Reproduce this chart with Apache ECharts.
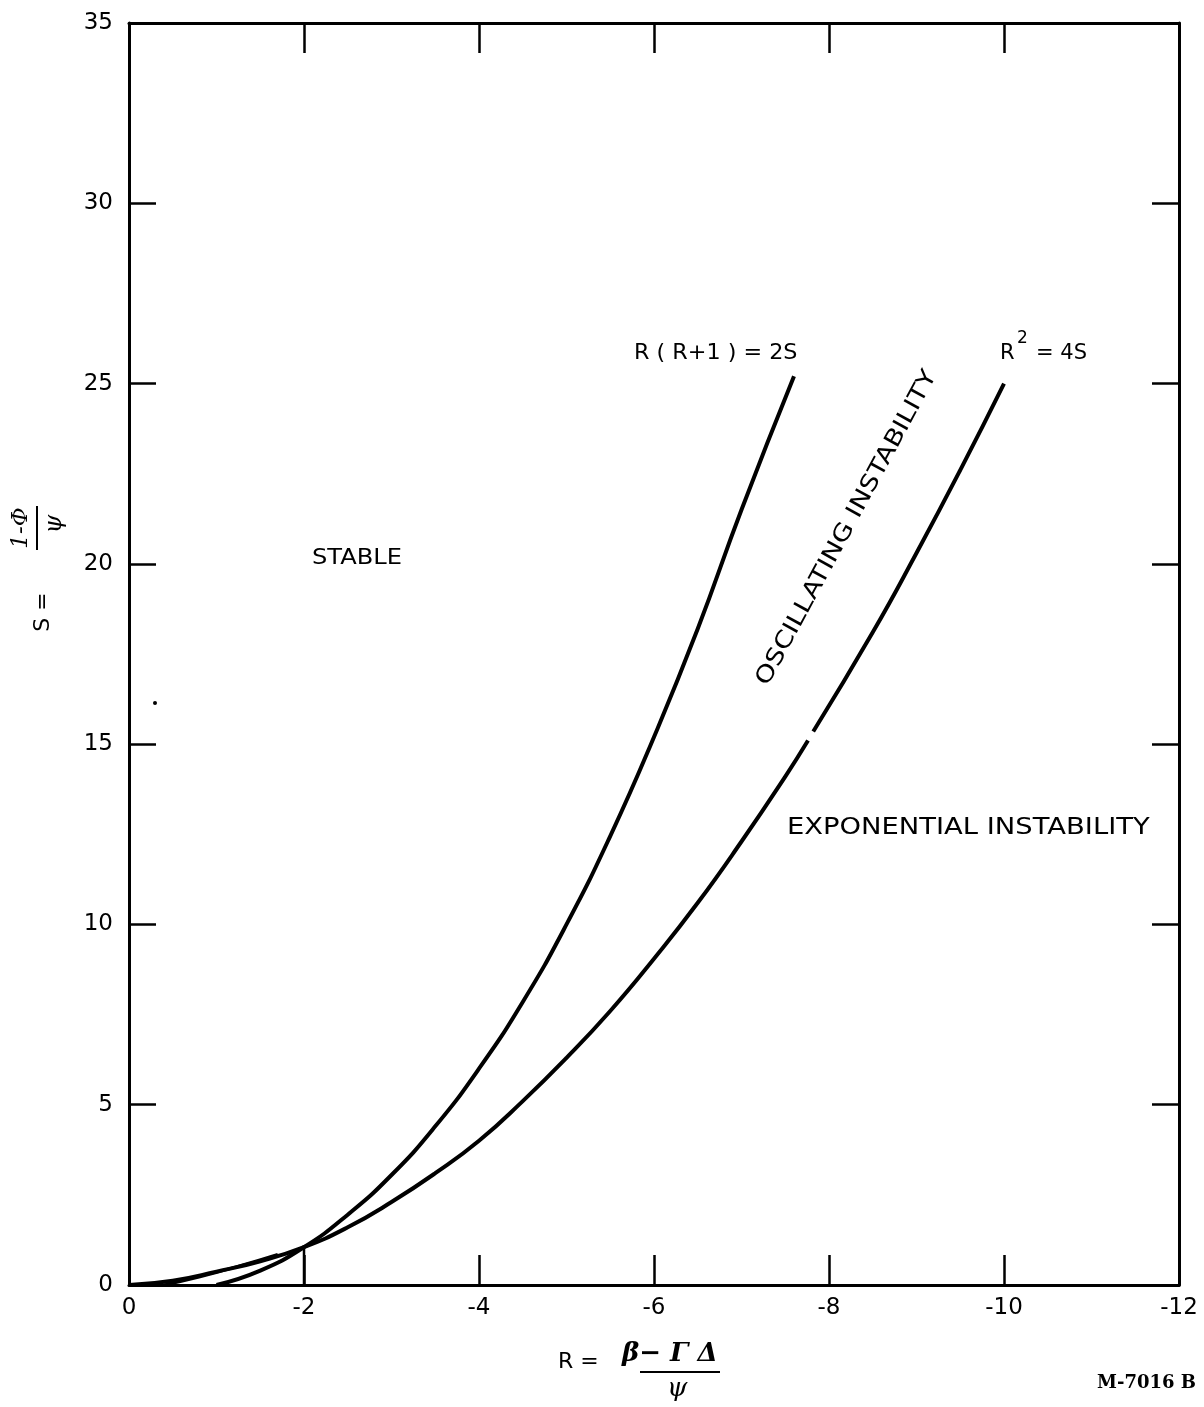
<!DOCTYPE html>
<html>
<head>
<meta charset="utf-8">
<script src="https://cdn.jsdelivr.net/npm/echarts@6/dist/echarts.min.js"></script>
<style>
  html, body { margin: 0; padding: 0; background: #fff; }
  #chart { width: 1204px; height: 1407px; }
</style>
</head>
<body>
<div id="chart"></div>
<script>
// R (R+1) = 2S boundary
const curve1R = [-1.0, -1.5, -2.0, -2.5, -3.0, -3.5, -4.0, -4.5, -5.0, -5.5, -6.0, -6.5, -7.0, -7.6];
const curve1S = [0, 0.4, 1.05, 1.95, 3.05, 4.4, 6.0, 7.85, 10.0, 12.45, 15.2, 18.2, 21.5, 25.2];
// R^2 = 4S boundary (small break near S = 15)
const curve2R = [0, -0.5, -1.0, -1.5, -2.0, -2.5, -3.0, -3.5, -4.0, -4.5, -5.0, -5.5, -6.0, -6.5, -7.0, -7.5, -7.76, null, -7.82, -8.5, -9.0, -9.5, -10.0];
const curve2S = [0, 0.12, 0.37, 0.66, 1.05, 1.6, 2.3, 3.1, 4.0, 5.1, 6.3, 7.6, 9.05, 10.6, 12.3, 14.1, 15.1, null, 15.35, 18.1, 20.3, 22.6, 25.0];
// short drafting stroke near the origin
const stubR = [-0.4, -0.8, -1.29, -1.7];
const stubS = [0, 0.22, 0.55, 0.85];

const xTicks = { min: -12, max: 0, interval: 2 };
const yTicks = { min: 0, max: 35, interval: 5 };

const chart = echarts.init(document.getElementById('chart'), null, { renderer: 'canvas' });

function pairs(xs, ys) {
  return xs.map((x, i) => (x === null ? [null, null] : [x, ys[i]]));
}

const font = '"DejaVu Sans"';
const lineStyle = { color: '#000', width: 4 };
const axisBase = {
  type: 'value',
  inverse: true,
  axisLine: { show: true, onZero: false, lineStyle: { color: '#000', width: 3 } },
  axisTick: { show: true, inside: true, length: 30, lineStyle: { color: '#000', width: 2.5 } },
  splitLine: { show: false }
};

// plain text helper, x/y is the top-left corner, sx stretches the text horizontally
function label(text, x, y, size, sx) {
  return {
    type: 'text', x: x, y: y, scaleX: sx || 1,
    style: { text: text, font: size + 'px ' + font, fill: '#000', align: 'left', verticalAlign: 'top' }
  };
}

var option = {
  backgroundColor: '#fff',
  animation: false,
  grid: { left: 129, right: 25, top: 23, bottom: 122 },
  xAxis: [
    Object.assign({}, axisBase, {
      position: 'bottom', min: xTicks.min, max: xTicks.max, interval: xTicks.interval,
      axisLabel: { color: '#000', fontFamily: 'DejaVu Sans', fontSize: 23, margin: 12 }
    }),
    Object.assign({}, axisBase, {
      position: 'top', min: xTicks.min, max: xTicks.max, interval: xTicks.interval,
      axisLabel: { show: false }
    })
  ],
  yAxis: [
    Object.assign({}, axisBase, {
      inverse: false, position: 'left', min: yTicks.min, max: yTicks.max, interval: yTicks.interval,
      axisTick: { show: true, inside: true, length: 27, lineStyle: { color: '#000', width: 2.5 } },
      axisLabel: { color: '#000', fontFamily: 'DejaVu Sans', fontSize: 23, margin: 16 }
    }),
    Object.assign({}, axisBase, {
      inverse: false, position: 'right', min: yTicks.min, max: yTicks.max, interval: yTicks.interval,
      axisTick: { show: true, inside: true, length: 27, lineStyle: { color: '#000', width: 2.5 } },
      axisLabel: { show: false }
    })
  ],
  series: [
    {
      name: 'R(R+1)=2S', type: 'line', smooth: true, showSymbol: false,
      data: pairs(curve1R, curve1S), lineStyle: lineStyle
    },
    {
      name: 'R^2=4S', type: 'line', smooth: true, showSymbol: false, connectNulls: false,
      data: pairs(curve2R, curve2S), lineStyle: lineStyle
    },
    {
      name: 'stub', type: 'line', smooth: true, showSymbol: false,
      data: pairs(stubR, stubS), lineStyle: { color: '#000', width: 3 }
    },
    {
      // little vertical marker under the crossing at R = -2
      name: 'mark', type: 'line', showSymbol: false,
      data: [[-2, 0], [-2, 1.1]], lineStyle: { color: '#000', width: 2.5 }
    }
  ],
  graphic: [
    label('STABLE', 312, 548, 21, 1.15),
    label('R ( R+1 ) = 2S', 634, 343, 21, 1.06),
    label('R', 1000, 343, 21),
    label('2', 1017, 330, 17),
    label('= 4S', 1036, 343, 21),
    { type: 'text', x: 847, y: 528, rotation: Math.PI * 61.5 / 180, scaleX: 1.2,
      style: { text: 'OSCILLATING INSTABILITY', font: '23px ' + font, fill: '#000', align: 'center', verticalAlign: 'middle' } },
    label('EXPONENTIAL INSTABILITY', 787, 817, 23, 1.19),
    // x axis title
    label('R =', 558, 1351, 22),
    { type: 'text', left: 622, top: 1341, style: { text: 'β− Γ Δ', font: 'italic bold 26px "DejaVu Serif"', fill: '#000' } },
    { type: 'line', shape: { x1: 640, y1: 1372, x2: 720, y2: 1372 }, style: { stroke: '#000', lineWidth: 2 } },
    { type: 'text', left: 667, top: 1376, style: { text: 'ψ', font: 'italic 26px "DejaVu Serif"', fill: '#000' } },
    // y axis title (rotated)
    { type: 'text', x: 43, y: 612, rotation: Math.PI / 2,
      style: { text: 'S =', font: '22px ' + font, fill: '#000', align: 'center', verticalAlign: 'middle' } },
    { type: 'text', x: 21, y: 528, rotation: Math.PI / 2,
      style: { text: '1-Φ', font: 'italic 23px "DejaVu Serif"', fill: '#000', align: 'center', verticalAlign: 'middle' } },
    { type: 'line', shape: { x1: 37, y1: 506, x2: 37, y2: 550 }, style: { stroke: '#000', lineWidth: 2 } },
    { type: 'text', x: 55, y: 524, rotation: Math.PI / 2,
      style: { text: 'ψ', font: 'italic 24px "DejaVu Serif"', fill: '#000', align: 'center', verticalAlign: 'middle' } },
    { type: 'circle', shape: { cx: 155, cy: 703, r: 2 }, style: { fill: '#000' } },
    { type: 'text', right: 8, top: 1374, style: { text: 'M-7016 B', font: 'bold 18px "DejaVu Serif"', fill: '#000' } }
  ]
};

chart.setOption(option);
</script>
</body>
</html>
